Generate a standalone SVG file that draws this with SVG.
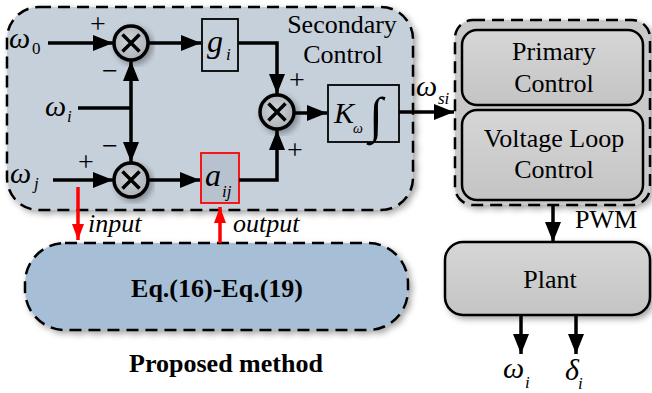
<svg xmlns="http://www.w3.org/2000/svg" width="652" height="393" viewBox="0 0 652 393">
<style>
text{font-family:'Liberation Serif','Times New Roman',serif;fill:#000}
.it{font-style:italic}
.b{font-weight:bold}
.c{text-anchor:middle}
.dash{stroke:#000;stroke-width:2.5;stroke-dasharray:12 7}
.blk{fill:none;stroke:#000;stroke-width:3.5}
.red{fill:none;stroke:#f00;stroke-width:3.5}
.sum circle{fill:url(#sg);stroke:#000;stroke-width:3.5}
.sum path{stroke:#000;stroke-width:3.5}
.box{stroke:#000;stroke-width:1.8}
</style>
<defs>
<radialGradient id="sg" cx="0.45" cy="0.45" r="0.6"><stop offset="0" stop-color="#d0d4d8"/><stop offset="1" stop-color="#a9afb6"/></radialGradient>
<linearGradient id="gg" x1="0" y1="0" x2="0" y2="1"><stop offset="0" stop-color="#d6d6d6"/><stop offset="1" stop-color="#c4c4c4"/></linearGradient>
<filter id="sh" x="-20%" y="-20%" width="140%" height="140%"><feDropShadow dx="3" dy="3" stdDeviation="3" flood-color="#000" flood-opacity="0.35"/></filter>
<marker id="ah" markerUnits="userSpaceOnUse" markerWidth="20" markerHeight="16" refX="20" refY="8" orient="auto"><path d="M0,0 L20,8 L0,16 z" fill="#000"/></marker>
<marker id="rh" markerUnits="userSpaceOnUse" markerWidth="16" markerHeight="12" refX="16" refY="6" orient="auto"><path d="M0,0 L16,6 L0,12 z" fill="#f00"/></marker>
</defs>

<g id="secondary-control">
<rect x="7" y="7" width="406" height="203" rx="32" fill="#c6d0db" class="dash" filter="url(#sh)"/>
<text class="c" x="342" y="33" font-size="26">Secondary</text>
<text class="c" x="343" y="63" font-size="26">Control</text>
</g>

<g id="right-block">
<rect x="455" y="20" width="195" height="185" rx="18" fill="#c9c9c9" class="dash" filter="url(#sh)"/>
</g>
<g id="primary-control">
<rect x="462" y="30" width="181" height="75" rx="15" fill="url(#gg)" stroke="#000" stroke-width="2.5"/>
<text class="c" x="554" y="60" font-size="26">Primary</text>
<text class="c" x="554" y="92" font-size="26">Control</text>
</g>
<g id="voltage-loop-control">
<rect x="462" y="110" width="181" height="90" rx="15" fill="url(#gg)" stroke="#000" stroke-width="2.5"/>
<text class="c" x="554" y="147" font-size="26">Voltage Loop</text>
<text class="c" x="554" y="178" font-size="26">Control</text>
</g>

<g id="plant">
<rect x="445" y="242" width="205" height="73" rx="18" fill="url(#gg)" stroke="#000" stroke-width="2.5" filter="url(#sh)"/>
<text class="c" x="550" y="288" font-size="26">Plant</text>
</g>

<g id="proposed-method">
<rect x="25" y="243" width="383" height="87" rx="40" fill="#a6bfd6" class="dash" filter="url(#sh)"/>
<text class="b c" x="217" y="297" font-size="26">Eq.(16)-Eq.(19)</text>
</g>
<text class="b c" x="226" y="372" font-size="26">Proposed method</text>

<g id="sum1" class="sum" filter="url(#sh)">
<circle cx="131" cy="43" r="17"/>
<path d="M122.5,34.5 L139.5,51.5 M139.5,34.5 L122.5,51.5"/>
</g>
<g id="sum2" class="sum" filter="url(#sh)">
<circle cx="131" cy="180" r="17"/>
<path d="M122.5,171.5 L139.5,188.5 M139.5,171.5 L122.5,188.5"/>
</g>
<g id="sum3" class="sum" filter="url(#sh)">
<circle cx="277" cy="112" r="17"/>
<path d="M268.5,103.5 L285.5,120.5 M285.5,103.5 L268.5,120.5"/>
</g>

<g id="gi">
<rect x="202" y="19" width="36" height="52" fill="#c6d0db" class="box"/>
<text class="it" x="207" y="52" font-size="32">g</text>
<text class="it" x="226" y="60" font-size="17">i</text>
</g>
<g id="aij">
<rect x="201" y="153" width="38" height="50" fill="#b7c2ce" stroke="#f00" stroke-width="1.8"/>
<text class="it" x="205" y="186" font-size="32">a</text>
<text class="it" x="222" y="197" font-size="17">ij</text>
</g>
<g id="k-integrator">
<rect x="328" y="85" width="71" height="57" fill="#c6d0db" class="box"/>
<text class="it" x="334" y="123" font-size="30">K</text>
<text class="it" x="353" y="133" font-size="14">ω</text>
<text x="369" y="132" font-size="50">∫</text>
</g>

<g id="connectors">
<path class="blk" d="M48,43 H113" marker-end="url(#ah)"/>
<path class="blk" d="M78,108 H131"/>
<path class="blk" d="M131,108 V61" marker-end="url(#ah)"/>
<path class="blk" d="M131,108 V162" marker-end="url(#ah)"/>
<path class="blk" d="M53,180 H113" marker-end="url(#ah)"/>
<path class="blk" d="M148,43 H201" marker-end="url(#ah)"/>
<path class="blk" d="M148,180 H200" marker-end="url(#ah)"/>
<path class="blk" d="M238,43 H277 V94" marker-end="url(#ah)"/>
<path class="blk" d="M239,180 H277 V130" marker-end="url(#ah)"/>
<path class="blk" d="M294,113 H327" marker-end="url(#ah)"/>
<path class="blk" d="M399,112 H454" marker-end="url(#ah)"/>
<path class="blk" d="M553,205 V242" marker-end="url(#ah)"/>
<path class="blk" d="M521,315 V354" marker-end="url(#ah)"/>
<path class="blk" d="M576,315 V354" marker-end="url(#ah)"/>
<path class="red" d="M78,187 V240" marker-end="url(#rh)"/>
<path class="red" d="M220,243 V207" marker-end="url(#rh)"/>
</g>

<g id="labels">
<text class="it" x="9" y="48" font-size="30">ω</text>
<text x="32" y="54" font-size="17">0</text>
<text class="it" x="45" y="116" font-size="30">ω</text>
<text class="it" x="67" y="122" font-size="17">i</text>
<text class="it" x="10" y="183" font-size="30">ω</text>
<text class="it" x="34" y="189" font-size="17">j</text>
<text class="c" x="98" y="33" font-size="28">+</text>
<text class="c" x="110" y="80" font-size="28">−</text>
<text class="c" x="110" y="155" font-size="28">−</text>
<text class="c" x="86" y="171" font-size="28">+</text>
<text class="c" x="297" y="89" font-size="28">+</text>
<text class="c" x="295" y="159" font-size="28">+</text>
<text class="it" x="416" y="96" font-size="30">ω</text>
<text class="it" x="438" y="104" font-size="17">si</text>
<text x="575" y="228" font-size="26">PWM</text>
<text class="it" x="503" y="378" font-size="30">ω</text>
<text class="it" x="525" y="388" font-size="17">i</text>
<text class="it" x="565" y="380" font-size="30">δ</text>
<text class="it" x="578" y="389" font-size="17">i</text>
<text class="it" x="88" y="232" font-size="26">input</text>
<text class="it" x="233" y="232" font-size="26">output</text>
</g>
</svg>
